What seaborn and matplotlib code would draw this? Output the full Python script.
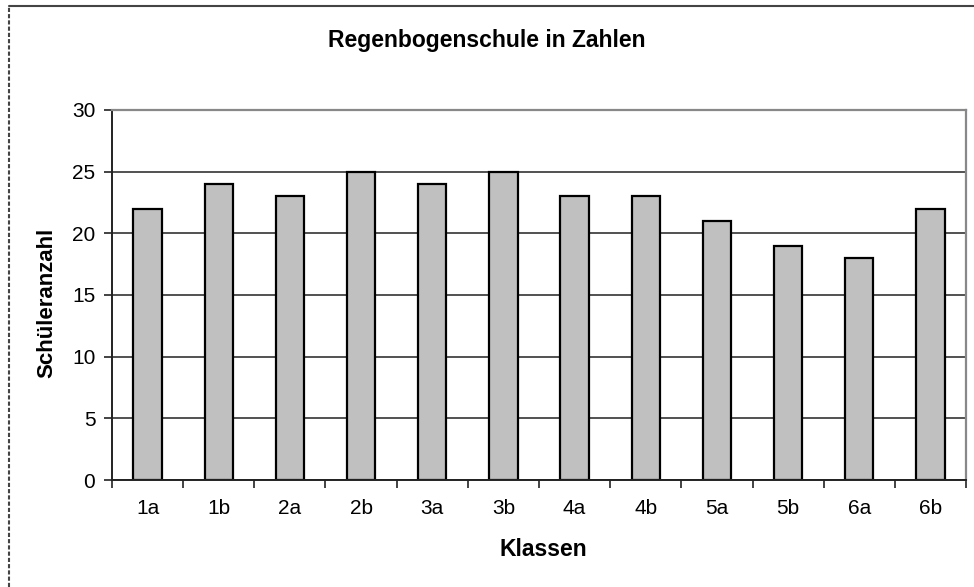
import matplotlib
matplotlib.use('Agg')
import matplotlib.pyplot as plt
import seaborn as sns
import numpy as np

# Daten
klassen = ['1a', '1b', '2a', '2b', '3a', '3b', '4a', '4b', '5a', '5b', '6a', '6b']
schueler = [22, 24, 23, 25, 24, 25, 23, 23, 21, 19, 18, 22]
y_ticks = [0, 5, 10, 15, 20, 25, 30]

sns.set_theme(style='white')
plt.rcParams['font.family'] = ['Liberation Sans', 'DejaVu Sans']
plt.rcParams['text.color'] = 'black'
plt.rcParams['xtick.color'] = 'black'
plt.rcParams['ytick.color'] = 'black'

fig = plt.figure(figsize=(9.74, 5.87), dpi=100)
ax = fig.add_axes([112 / 974, 1 - 480 / 587, (966 - 112) / 974, (480 - 110) / 587])

# Gitterlinien hinter den Balken
ax.set_axisbelow(True)
ax.yaxis.grid(True, color='#333333', linewidth=1.2)

sns.barplot(x=klassen, y=schueler, color='#C0C0C0', width=0.4,
            edgecolor='black', linewidth=1.6, saturation=1, ax=ax)

ax.set_ylim(0, 30)
ax.set_xlim(-0.5, len(klassen) - 0.5)
ax.set_yticks(y_ticks)
ax.set_yticklabels([str(t) for t in y_ticks], fontsize=15)
ax.set_xticks(range(len(klassen)))
ax.set_xticklabels(klassen, fontsize=15)
ax.tick_params(axis='x', which='major', length=0, pad=14)
ax.set_xticks(np.arange(-0.5, len(klassen)), minor=True)
ax.tick_params(axis='x', which='minor', length=6, width=1.2, color='#222222', direction='out', bottom=True)
ax.tick_params(axis='y', which='major', length=6, width=1.2, color='#222222', direction='out', left=True, pad=6)

for side in ['left', 'bottom']:
    ax.spines[side].set_color('#222222')
    ax.spines[side].set_linewidth(1.4)
for side in ['top', 'right']:
    ax.spines[side].set_visible(True)
    ax.spines[side].set_color('#888888')
    ax.spines[side].set_linewidth(1.6)

ax.set_xlabel('')
ax.set_ylabel('')

# Beschriftungen
fig.text(487 / 974, 1 - 40 / 587, 'Regenbogenschule in Zahlen', ha='center', va='center',
         fontsize=16.5, fontweight='bold')
fig.text(543 / 974, 1 - 550 / 587, 'Klassen', ha='center', va='center',
         fontsize=16.5, fontweight='bold')
fig.text(47 / 974, 1 - 303 / 587, 'Schüleranzahl', ha='center', va='center',
         fontsize=16, fontweight='bold', rotation=90)

# Rahmen (oben und links sichtbar)
fig.add_artist(plt.Line2D([9 / 974, 1.0], [1 - 6 / 587, 1 - 6 / 587], color='#444444', linewidth=1.5))
fig.add_artist(plt.Line2D([9 / 974, 9 / 974], [0, 1 - 6 / 587], color='#444444', linewidth=1.5,
                          linestyle=(0, (2, 1))))

fig.savefig('out.png', dpi=100, facecolor='white')
